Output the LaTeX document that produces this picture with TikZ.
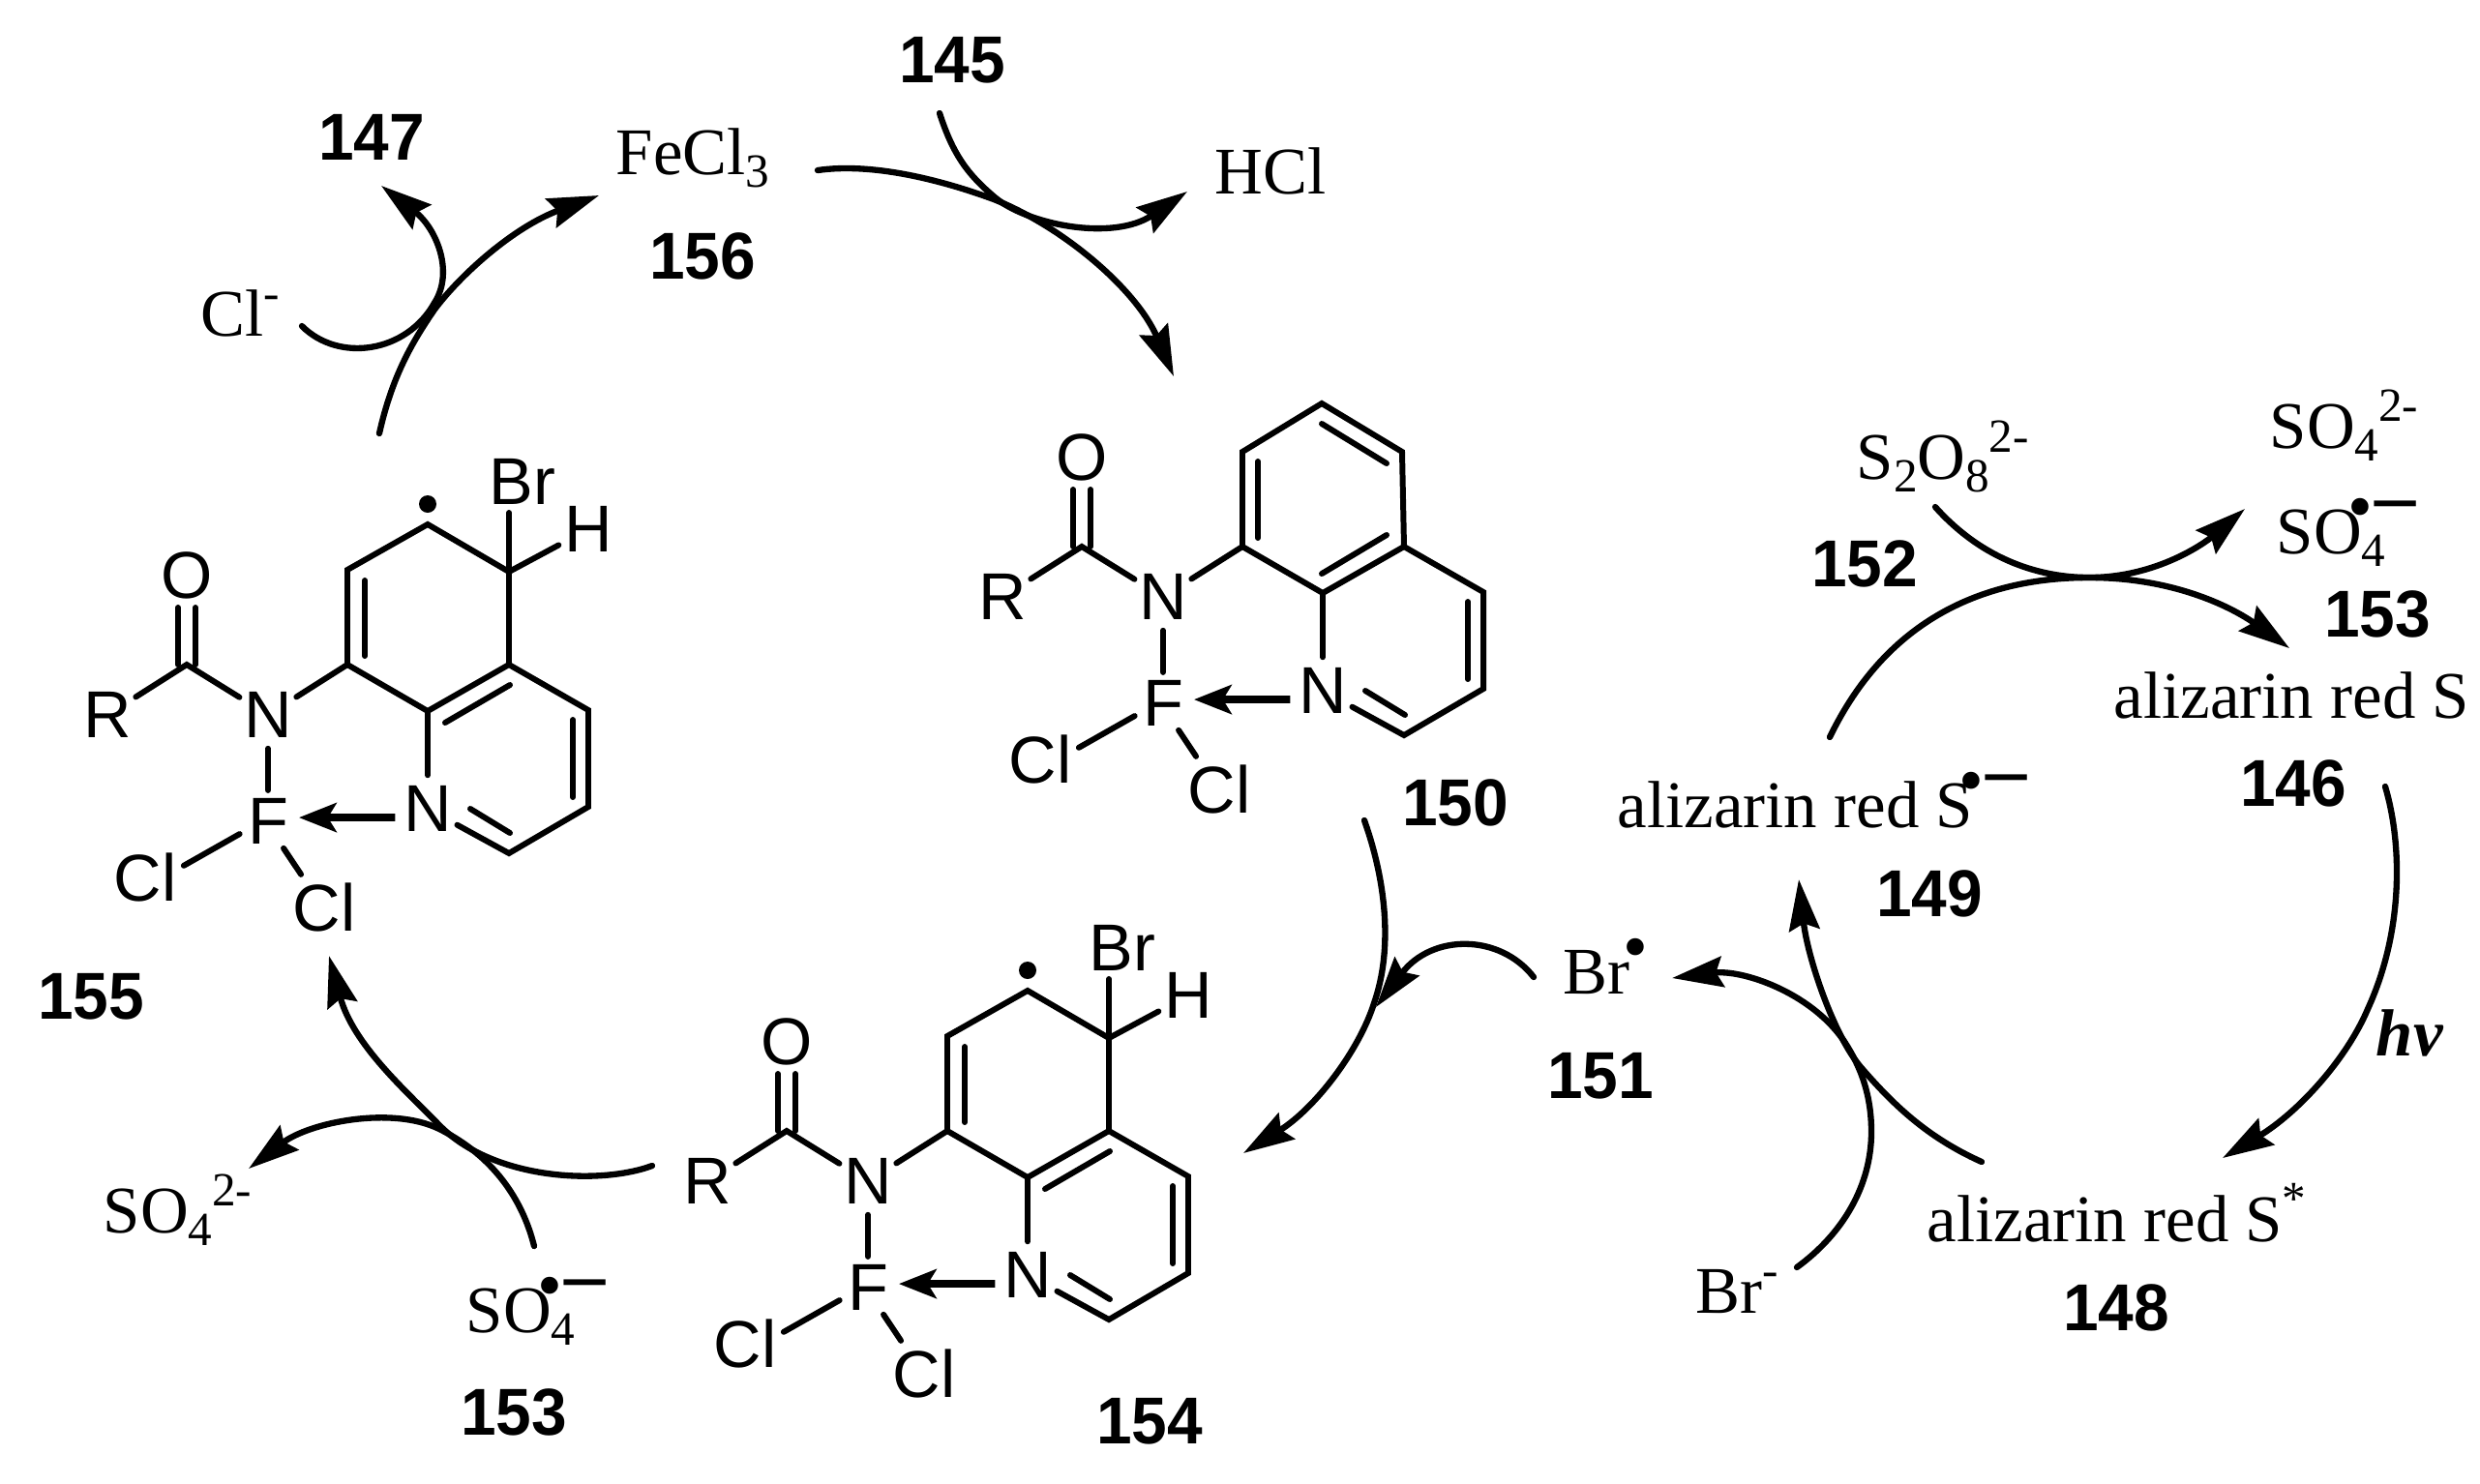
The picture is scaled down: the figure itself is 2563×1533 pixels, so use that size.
\documentclass[tikz,border=0pt]{standalone}
\usepackage{fontspec}
\setmainfont{Liberation Serif}
\setsansfont{Liberation Sans}
\newfontfamily\numfont[FakeStretch=.96]{Liberation Sans}
\usetikzlibrary{arrows.meta}

\newcommand{\chsub}[1]{\raisebox{-.2em}{\fontsize{14}{14}\selectfont #1}}
\newcommand{\chsup}[1]{\raisebox{.4em}{\fontsize{14}{14}\selectfont #1}}
\newcommand{\raddot}{\raisebox{6.6pt}{\fontsize{21}{21}\selectfont\textbullet}}
\newcommand{\radan}{\kern-4pt\raddot\kern.5pt\raisebox{9pt}{\fontsize{24}{24}\selectfont\bfseries –}}

\newcommand{\quincore}{
\coordinate (cf) at (359,687);
\coordinate (cd) at (526,687);
\coordinate (ce) at (442,735);
\coordinate (pa) at (608,734);
\coordinate (pb) at (608,834);
\coordinate (pc) at (526,882);
\coordinate (cco) at (193,687);
\node[atom] (nam) at (277,739) {N};
\node[atom] (nqu) at (442,836) {N};
\node[atom] (flu) at (277,849) {F};
\node[atom] (oxy) at (193,595) {O};
\node[atom] (rgr) at (111,739) {R};
\node[atom] (cla) at (150,907) {Cl};
\node[atom] (clb) at (335,938) {Cl};
\draw[bond] (cf) -- (ce) -- (cd) -- (pa) -- (pb) -- (pc) -- (nqu);
\draw[bond] (ce) -- (nqu);
\draw[bond] (cf) -- (nam);
\draw[bond] (nam) -- (cco) -- (rgr);
\draw[bond] (184,687) -- (184,628);
\draw[bond] (202,687) -- (202,628);
\draw[bond] (nam) -- (flu);
\draw[bond] (flu.204) -- (cla.17);
\draw[bond] (flu.-60) -- (clb.125);
\draw[bond] (486,836) -- (527,861);
\draw[bond] (592,744) -- (592,824);
\draw[dative] (nqu.195) -- (flu.7);
}

\newcommand{\radcore}{
\quincore
\coordinate (ca) at (359,589);
\coordinate (cb) at (442,542);
\coordinate (cc) at (526,591);
\coordinate (cbr) at (526,530);
\node[atom] (bro) at (540,498) {Br};
\node[atom] (hyd) at (608,547) {H};
\fill (442,521) circle [radius=9];
\draw[bond] (cf) -- (ca) -- (cb) -- (cc) -- (cd);
\draw[bond] (cbr) -- (cc) -- (hyd);
\draw[bond] (377,600) -- (377,678);
\draw[bond] (460,747) -- (527,708);
}

\begin{document}
\begin{tikzpicture}[
x=0.1mm,
y=-0.1mm,
atom/.style={circle,
inner sep=0pt,
font=\fontsize{19.5}{19.5}\selectfont\sffamily},
num/.style={font=\fontsize{19.5}{19.5}\selectfont\numfont\bfseries},
species/.style={anchor=base west,
inner sep=0pt,
font=\fontsize{19.6}{19.6}\selectfont},
bond/.style={line width=1.7pt, line cap=round},
dative/.style={-{Stealth[length=11pt, width=8.5pt, inset=2.5pt]}, line width=2.2pt},
arrow/.style={-{Stealth[length=15pt, width=9pt, inset=2pt]}, line width=1.8pt, line cap=round}
]
\useasboundingbox (0,0) rectangle (2563,1533);

\begin{scope}[name prefix=mb]
\radcore
\end{scope}
\begin{scope}[shift={(620,482)}, name prefix=mc]
\radcore
\end{scope}
\begin{scope}[shift={(925,-122)}, name prefix=ma]
\quincore
\coordinate (ca) at (359,589);
\coordinate (cb) at (441,539);
\coordinate (cc) at (524,589);
\draw[bond] (cf) -- (ca) -- (cb) -- (cc) -- (cd);
\draw[bond] (375,599) -- (375,678);
\draw[bond] (441,560) -- (508,601);
\draw[bond] (441,715) -- (508,675);
\end{scope}

\node[num] (n147) at (384,142) {147};
\node[num] (n156) at (726,265) {156};
\node[num] (n145) at (984,62) {145};
\node[num] (n155) at (94,1030) {155};
\node[num] (n150) at (1504,830) {150};
\node[num] (n154) at (1188,1469) {154};
\node[num] (n153b) at (531,1460) {153};
\node[num] (n152) at (1927,583) {152};
\node[num] (n153a) at (2457,635) {153};
\node[num] (n146) at (2370,810) {146};
\node[num] (n149) at (1994,924) {149};
\node[num] (n148) at (2187,1352) {148};
\node[num] (n151) at (1654,1112) {151};

\node[species] (fecl) at (636,180) {FeCl\chsub{3}};
\node[species] (hcl) at (1255,200) {HCl};
\node[species] (cli) at (207,347) {Cl\chsup{-}};
\node[species] (sto) at (1918,495) {S\chsub{2}O\chsub{8}\chsup{2-}};
\node[species] (sox) at (2345,463) {SO\chsub{4}\chsup{2-}};
\node[species] (srad) at (2352,572) {SO\rlap{\chsub{4}}\radan};
\node[species] (ars) at (2184,742) {alizarin red S};
\node[species] (arr) at (1671,855) {alizarin red S\radan};
\node[species] (are) at (1991,1283) {alizarin red S\chsup{*}};
\node[species] (hnu) at (2455,1091) {\bfseries\itshape hv};
\node[species] (brr) at (1615,1027) {Br\kern-2pt\raddot};
\node[species] (bri) at (1752,1357) {Br\chsup{-}};
\node[species] (soy) at (106,1274) {SO\chsub{4}\chsup{2-}};
\node[species] (srb) at (481,1377) {SO\rlap{\chsub{4}}\radan};

\coordinate (fromb) at (392,448);
\coordinate (tofe) at (619,202);
\coordinate (fromcl) at (312,337);
\coordinate (toa) at (394,192);
\coordinate (fromfe) at (845,176);
\coordinate (tom) at (1213,389);
\coordinate (fromn) at (971,117);
\coordinate (tohcl) at (1227,198);
\coordinate (froma) at (1410,848);
\coordinate (toc) at (1285,1192);
\coordinate (frombr) at (1585,1010);
\coordinate (tobe) at (1422,1041);
\coordinate (fromc) at (674,1205);
\coordinate (tob) at (340,988);
\coordinate (fromso) at (552,1288);
\coordinate (toso) at (257,1208);
\coordinate (fromars) at (2465,813);
\coordinate (toare) at (2297,1197);
\coordinate (fromare) at (2048,1201);
\coordinate (toarr) at (1859,909);
\coordinate (frombri) at (1857,1310);
\coordinate (tobrr) at (1728,1011);
\coordinate (fromarr) at (1891,762);
\coordinate (toars) at (2366,670);
\coordinate (fromsto) at (2000,524);
\coordinate (tosrad) at (2320,526);
\coordinate (join) at (2159,597);

\draw[arrow] (fromb) .. controls (405,390) and (425,355) .. (449,320) .. controls (475,285) and (530,235) .. (tofe);
\draw[arrow] (fromcl) .. controls (350,375) and (420,365) .. (449,313) .. controls (470,280) and (450,235) .. (toa);
\draw[arrow] (fromfe) .. controls (900,168) and (970,185) .. (1027,206) .. controls (1100,235) and (1175,300) .. (tom);
\draw[arrow] (fromn) .. controls (985,160) and (1000,180) .. (1027,203) .. controls (1060,232) and (1150,250) .. (tohcl);
\draw[arrow] (froma) .. controls (1432,910) and (1440,980) .. (1420,1037) .. controls (1405,1085) and (1360,1145) .. (toc);
\draw[arrow] (frombr) .. controls (1550,965) and (1480,965) .. (tobe);
\draw[arrow] (fromc) .. controls (620,1225) and (510,1220) .. (454,1163) .. controls (420,1128) and (365,1080) .. (tob);
\draw[arrow] (fromso) .. controls (540,1240) and (510,1195) .. (454,1167) .. controls (405,1143) and (320,1160) .. (toso);
\draw[arrow] (fromars) .. controls (2482,870) and (2485,960) .. (2447,1043) .. controls (2425,1095) and (2375,1150) .. (toare);
\draw[arrow] (fromare) .. controls (1990,1175) and (1955,1140) .. (1923,1103) .. controls (1895,1070) and (1868,990) .. (toarr);
\draw[arrow] (frombri) .. controls (1905,1275) and (1934,1225) .. (1934,1170) .. controls (1934,1135) and (1925,1105) .. (1905,1075) .. controls (1870,1025) and (1800,1002) .. (tobrr);
\draw[arrow] (fromarr) .. controls (1950,640) and (2050,597) .. (join) .. controls (2250,597) and (2310,630) .. (toars);
\draw[arrow] (fromsto) .. controls (2050,580) and (2110,597) .. (join) .. controls (2230,597) and (2280,560) .. (tosrad);

\end{tikzpicture}
\end{document}
